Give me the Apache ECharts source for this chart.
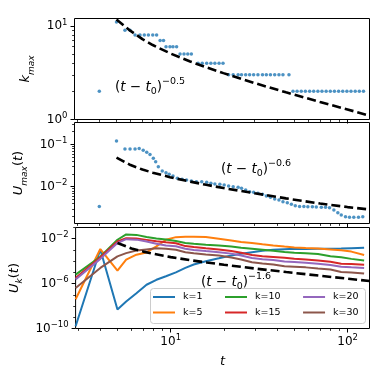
<!DOCTYPE html>
<html>
<head>
<meta charset="utf-8">
<script src="https://cdn.jsdelivr.net/npm/echarts@6/dist/echarts.min.js"></script>
<style>
html, body { margin: 0; padding: 0; background: #fff; }
#chart { width: 374px; height: 374px; }
</style>
</head>
<body>
<div id="chart"></div>
<script>
const font = 'DejaVu Sans'
const tMin = 2.9
const tMax = 133

// top panel: k_max
const tK = [4.0, 5.0, 5.58, 5.96, 6.36, 6.78, 7.17, 7.56, 8.0, 8.41, 8.8, 9.2, 9.5, 10.0, 10.4, 10.9, 11.4, 12.0, 12.6, 13.2,
    14.4, 15.2, 16.1, 17.0, 17.9, 18.9, 19.9, 21.4, 22.7, 24.2, 25.3, 26.7, 28.1, 29.6, 31.3, 33.2, 34.9, 36.8, 38.9, 41.1,
    43.3, 46.8, 49.3, 52.0, 54.9, 57.9, 61.2, 64.5, 68.1, 71.8, 75.8, 80.0, 84.4, 89.1, 94.0, 99.2, 104.6, 110.5, 116.5, 123.0]
const kMax = [2, 11, 9, 9, 8, 8, 8, 8, 8, 8, 7, 7, 6, 6, 6, 6, 5, 5, 5, 5,
    4, 4, 4, 4, 4, 4, 4, 3, 3, 3, 3, 3, 3, 3, 3, 3, 3, 3, 3, 3,
    3, 3, 2, 2, 2, 2, 2, 2, 2, 2, 2, 2, 2, 2, 2, 2, 2, 2, 2, 2]

// middle panel: U_max
const tU = [4.0, 5.0, 5.58, 5.96, 6.36, 6.71, 7.07, 7.4, 7.72, 8.06, 8.31, 8.6, 9.05, 9.5, 9.9, 10.4, 11.0, 11.7, 12.4, 13.2,
    14.1, 15.1, 16.1, 17.0, 17.9, 19.1, 20.2, 21.4, 22.7, 24.2, 25.3, 26.7, 28.1, 29.6, 31.3, 33.2, 34.9, 36.8, 38.9, 41.1,
    43.3, 45.8, 48.3, 50.8, 53.7, 56.8, 59.8, 63.4, 66.7, 71.2, 75.2, 79.2, 83.8, 88.2, 92.2, 97.4, 102.6, 108.5, 115.3, 121.9]
const uMax = [3.4e-3, 0.12, 0.0775, 0.0775, 0.0775, 0.080, 0.073, 0.065, 0.058, 0.047, 0.039, 0.0297, 0.0234, 0.0214, 0.0196, 0.0179, 0.0158, 0.0150, 0.0144, 0.0137,
    0.0131, 0.0131, 0.0127, 0.0120, 0.0116, 0.0114, 0.0110, 0.0104, 0.0100, 0.0097, 9.2e-3, 8.4e-3, 7.6e-3, 7.4e-3, 7.0e-3, 6.6e-3, 6.0e-3, 5.6e-3, 5.1e-3, 4.85e-3,
    4.4e-3, 4.2e-3, 3.85e-3, 3.56e-3, 3.39e-3, 3.39e-3, 3.35e-3, 3.35e-3, 3.3e-3, 3.25e-3, 3.25e-3, 3.2e-3, 2.8e-3, 2.44e-3, 2.15e-3, 1.96e-3, 1.9e-3, 1.9e-3, 1.9e-3, 1.96e-3]

// dashed power laws
const fitT = [5, 6, 7, 8, 10, 13, 16, 20, 30, 45, 70, 100, 133]
const fitK = [11.7, 8.84, 7.22, 6.25, 5.10, 4.17, 3.61, 3.13, 2.45, 1.95, 1.54, 1.28, 1.10]
const fitU = [0.049, 0.0325, 0.0255, 0.0215, 0.0168, 0.0132, 0.0111, 0.0093, 0.0070, 0.0053, 0.0040, 0.0033, 0.0029]
const fitUk = [4.1e-3, 1.35e-3, 7.1e-4, 4.5e-4, 2.3e-4, 1.2e-4, 7.6e-5, 4.8e-5, 2.2e-5, 1.07e-5, 5.0e-6, 2.75e-6, 1.7e-6]

// bottom panel: U_k
const tLines = [2.9, 4, 5, 5.6, 6.4, 7.3, 8.3, 9.4, 10.7, 12.1, 13.5, 15.8, 18.7, 22, 25, 28.8, 33, 38, 44, 50, 58, 68, 80, 92, 105, 124]
const u1 = [1.6e-10, 1.1e-3, 5.0e-9, 2.5e-8, 1.4e-7, 7.9e-7, 2.2e-6, 4.5e-6, 1.0e-5, 2.5e-5, 5.0e-5, 1.0e-4, 1.8e-4, 3.2e-4, 4.5e-4, 6.3e-4, 8.3e-4, 1.05e-3, 1.17e-3, 1.26e-3, 1.2e-3, 1.3e-3, 1.3e-3, 1.32e-3, 1.45e-3, 1.6e-3]
const u5 = [4.0e-8, 1.2e-3, 1.45e-5, 1.35e-4, 3.8e-4, 6.0e-4, 2.1e-3, 8.1e-3, 1.38e-2, 1.48e-2, 1.5e-2, 1.4e-2, 1.0e-2, 7.1e-3, 5.2e-3, 4.2e-3, 3.2e-3, 2.5e-3, 2.0e-3, 1.66e-3, 1.48e-3, 1.32e-3, 1.12e-3, 9.3e-4, 7.1e-4, 3.5e-4]
const u10 = [6.3e-6, 2.5e-4, 8.1e-3, 2.4e-2, 2.2e-2, 1.45e-2, 1.07e-2, 8.5e-3, 6.3e-3, 4.2e-3, 3.5e-3, 2.95e-3, 2.5e-3, 2.0e-3, 1.6e-3, 1.3e-3, 1.05e-3, 8.3e-4, 6.5e-4, 5.6e-4, 5.0e-4, 4.4e-4, 2.8e-4, 2.2e-4, 1.6e-4, 1.17e-4]
const u15 = [3.2e-6, 2.2e-4, 5.8e-3, 1.12e-2, 1.05e-2, 7.9e-3, 6.0e-3, 4.8e-3, 4.0e-3, 2.2e-3, 1.8e-3, 1.4e-3, 1.12e-3, 7.9e-4, 5.6e-4, 3.5e-4, 2.8e-4, 2.4e-4, 2.0e-4, 1.66e-4, 1.4e-4, 1.17e-4, 8.9e-5, 6.0e-5, 5.6e-5, 4.9e-5]
const u20 = [2.3e-6, 1.6e-4, 4.1e-3, 9.1e-3, 8.3e-3, 5.6e-3, 3.5e-3, 2.5e-3, 2.1e-3, 1.26e-3, 1.0e-3, 7.9e-4, 6.3e-4, 4.7e-4, 3.2e-4, 1.9e-4, 1.5e-4, 1.26e-4, 9.5e-5, 8.3e-5, 7.1e-5, 6.0e-5, 4.5e-5, 3.2e-5, 2.8e-5, 2.45e-5]
const u30 = [4.1e-7, 2.5e-5, 2.7e-4, 5.2e-4, 8.9e-4, 1.12e-3, 1.4e-3, 1.26e-3, 1.05e-3, 6.3e-4, 5.0e-4, 4.0e-4, 3.2e-4, 2.1e-4, 1.4e-4, 7.9e-5, 6.3e-5, 5.0e-5, 3.5e-5, 3.2e-5, 2.8e-5, 2.2e-5, 1.8e-5, 1.07e-5, 1.0e-5, 7.8e-6]

const kNames = ['k=1', 'k=5', 'k=10', 'k=15', 'k=20', 'k=30']
const kColors = ['#1f77b4', '#ff7f0e', '#2ca02c', '#d62728', '#9467bd', '#8c564b']
const kValues = [u1, u5, u10, u15, u20, u30]

// ticks
const xMajor = [10, 100]
const xMinor = [3, 4, 5, 6, 7, 8, 9, 20, 30, 40, 50, 60, 70, 80, 90]
const yMajor = [[1, 10], [0.01, 0.1], [1e-2, 1e-6, 1e-10]]
const yMinor = [[2, 3, 4, 5, 6, 7, 8, 9],
    [2e-3, 3e-3, 4e-3, 5e-3, 6e-3, 7e-3, 8e-3, 9e-3, 0.02, 0.03, 0.04, 0.05, 0.06, 0.07, 0.08, 0.09, 0.2, 0.3],
    [1e-9, 1e-8, 1e-7, 1e-5, 1e-4, 1e-3, 1e-1]]
const yRange = [[1, 12], [1.35e-3, 0.33], [1e-10, 0.1]]

const grids = [
    { left: 74.5, top: 18.5, width: 295, height: 101 },
    { left: 74.5, top: 122.5, width: 295, height: 101 },
    { left: 74.5, top: 227.5, width: 295, height: 101 }
]

const tickRich = {
    b: { fontFamily: font, fontSize: 12, lineHeight: 16, color: '#000' },
    s: { fontFamily: font, fontSize: 8.5, lineHeight: 9, verticalAlign: 'top', color: '#000' }
}
function powLabel(v) {
    let e = Math.round(Math.log10(v))
    return '{b|10}{s|' + (e < 0 ? '\u2212' + (-e) : e) + '}'
}
const nameRich = {
    i: { fontFamily: font, fontSize: 13, fontStyle: 'italic', lineHeight: 20, color: '#000' },
    m: { fontFamily: font, fontSize: 13, lineHeight: 20, color: '#000' },
    sub: { fontFamily: font, fontSize: 9, fontStyle: 'italic', lineHeight: 9, verticalAlign: 'bottom', color: '#000' }
}

let xAxis = []
let yAxis = []
for (let g = 0; g < 3; g++) {
    xAxis.push({
        type: 'log', gridIndex: g, position: 'bottom', min: tMin, max: tMax,
        axisLine: { show: false }, splitLine: { show: false },
        axisTick: { customValues: xMajor, length: 4, lineStyle: { color: '#000', width: 1 } },
        axisLabel: g == 2 ? { customValues: xMajor, formatter: powLabel, margin: 5, rich: tickRich } : { show: false },
        name: g == 2 ? 't' : '', nameLocation: 'middle', nameGap: 25,
        nameTextStyle: { fontFamily: font, fontSize: 13, fontStyle: 'italic', color: '#000', lineHeight: 16 }
    })
    xAxis.push({
        type: 'log', gridIndex: g, position: 'bottom', min: tMin, max: tMax,
        axisLine: { show: false }, splitLine: { show: false },
        axisTick: { customValues: xMinor, length: 2.4, lineStyle: { color: '#000', width: 0.8 } },
        axisLabel: { show: false }
    })
}
const yNames = ['{i|k}{sub|max}', '{i|U}{sub|max}{m|(}{i|t}{m|)}', '{i|U}{sub|k}{m|(}{i|t}{m|)}']
const yGaps = [25, 31, 51]
for (let g = 0; g < 3; g++) {
    yAxis.push({
        type: 'log', gridIndex: g, position: 'left', min: yRange[g][0], max: yRange[g][1],
        axisLine: { show: false }, splitLine: { show: false },
        axisTick: { customValues: yMajor[g], length: 4, lineStyle: { color: '#000', width: 1 } },
        axisLabel: { customValues: yMajor[g], formatter: powLabel, margin: 7, rich: tickRich },
        name: yNames[g], nameLocation: 'middle', nameGap: yGaps[g],
        nameTextStyle: { rich: nameRich }
    })
    yAxis.push({
        type: 'log', gridIndex: g, position: 'left', min: yRange[g][0], max: yRange[g][1],
        axisLine: { show: false }, splitLine: { show: false },
        axisTick: { customValues: yMinor[g], length: 2.4, lineStyle: { color: '#000', width: 0.8 } },
        axisLabel: { show: false }
    })
}

function pairs(xs, ys) {
    return xs.map((x, i) => [x, ys[i]])
}
const dash = { color: '#000', width: 2.6, type: [9, 4] }
let series = [
    { type: 'scatter', xAxisIndex: 0, yAxisIndex: 0, data: pairs(tK, kMax), symbolSize: 3.5, itemStyle: { color: '#1f77b4' } },
    { type: 'line', xAxisIndex: 0, yAxisIndex: 0, data: pairs(fitT, fitK), showSymbol: false, lineStyle: dash, z: 5 },
    { type: 'scatter', xAxisIndex: 2, yAxisIndex: 2, data: pairs(tU, uMax), symbolSize: 3.5, itemStyle: { color: '#1f77b4' } },
    { type: 'line', xAxisIndex: 2, yAxisIndex: 2, data: pairs(fitT, fitU), showSymbol: false, lineStyle: dash, z: 5 }
]
kNames.forEach((name, i) => {
    series.push({
        name: name, type: 'line', xAxisIndex: 4, yAxisIndex: 4, data: pairs(tLines, kValues[i]),
        showSymbol: false, color: kColors[i], lineStyle: { width: 2, color: kColors[i] }
    })
})
series.push({ type: 'line', xAxisIndex: 4, yAxisIndex: 4, data: pairs(fitT, fitUk), showSymbol: false, lineStyle: dash, z: 5 })

const legendBase = {
    orient: 'horizontal', left: 153, icon: 'rect', itemWidth: 22, itemHeight: 2, itemGap: 22.5, padding: 0, z: 10,
    textStyle: { fontFamily: font, fontSize: 9.5, color: '#000', padding: [0, 0, 0, 3] }
}

const annRich = {
    m: { fontFamily: font, fontSize: 13.5, lineHeight: 20, fill: '#000' },
    i: { fontFamily: font, fontSize: 13.5, fontStyle: 'italic', lineHeight: 20, fill: '#000' },
    sub: { fontFamily: font, fontSize: 9.5, lineHeight: 9, verticalAlign: 'bottom', fill: '#000' },
    sup: { fontFamily: font, fontSize: 9.5, lineHeight: 9, verticalAlign: 'top', fill: '#000' }
}
function ann(x, y, p) {
    return {
        type: 'text', x: x, y: y, z: 10,
        style: {
            text: '{m|(}{i|t}{m| \u2212 }{i|t}{sub|0}{m|)}{sup|\u2212' + p + '}',
            rich: annRich, textAlign: 'left', textVerticalAlign: 'middle'
        }
    }
}

const chart = echarts.init(document.getElementById('chart'))
chart.setOption({
    animation: false,
    backgroundColor: '#fff',
    grid: grids.map(g => Object.assign({ show: true, borderColor: '#000', borderWidth: 1, backgroundColor: 'transparent' }, g)),
    xAxis: xAxis,
    yAxis: yAxis,
    legend: [
        Object.assign({ top: 292, data: ['k=1', 'k=10', 'k=20'] }, legendBase),
        Object.assign({ top: 307.5, data: ['k=5', 'k=15', 'k=30'] }, legendBase)
    ],
    graphic: [
        { type: 'rect', z: 5, shape: { x: 150.5, y: 288.5, width: 215, height: 35, r: 3 }, style: { fill: 'rgba(255,255,255,0.8)', stroke: '#cccccc', lineWidth: 1 } },
        ann(115, 87, '0.5'),
        ann(221, 169, '0.6'),
        ann(201, 282, '1.6')
    ],
    series: series
})
</script>
